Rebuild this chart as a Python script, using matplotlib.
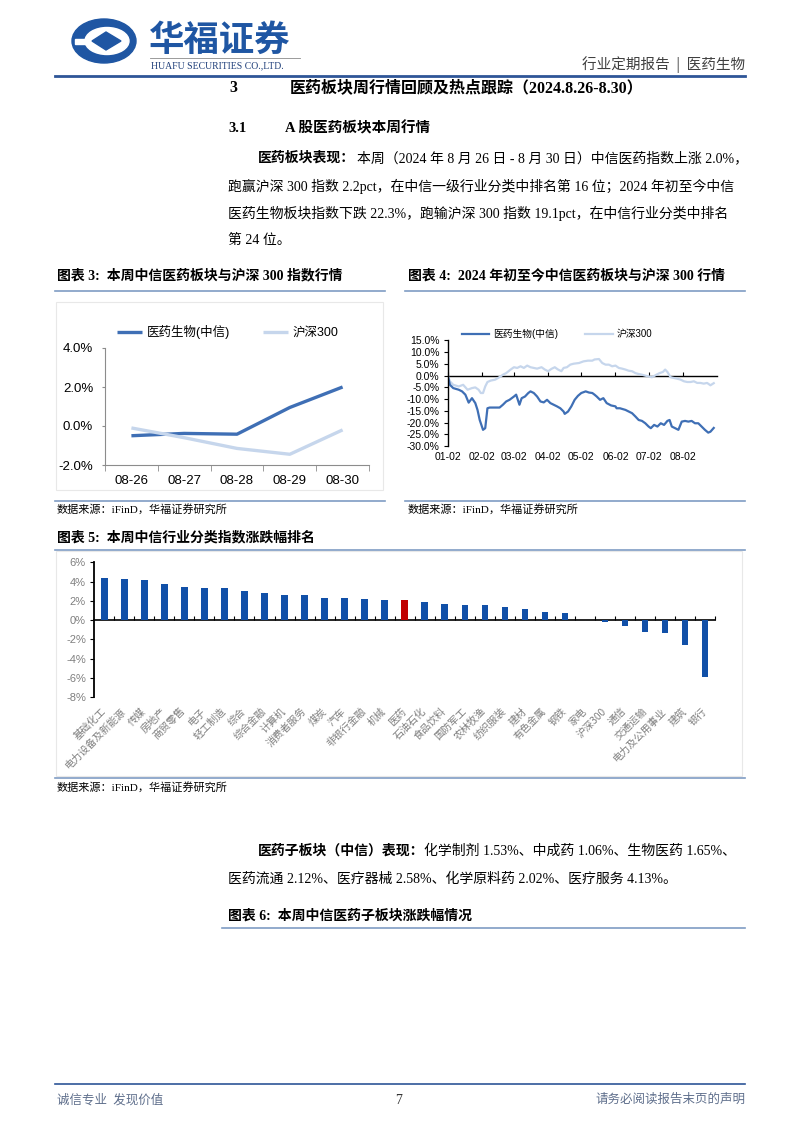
import numpy as np
import pandas as pd
import matplotlib
matplotlib.use('Agg')
import matplotlib.pyplot as plt
import matplotlib.dates as mdates
from matplotlib.patches import Ellipse, Polygon, Rectangle
from matplotlib.lines import Line2D
from matplotlib.ticker import FuncFormatter, NullFormatter

plt.rcParams['font.family'] = ['Liberation Sans', 'Noto Sans CJK SC']
plt.rcParams['axes.unicode_minus'] = False

SERIF = ['Liberation Serif', 'Noto Sans CJK SC']
CJK = ['Noto Sans CJK SC', 'DejaVu Sans']

# ---------------- данные ----------------
# 图表3: 本周中信医药板块与沪深300指数行情 (%)
week_days = ['08-26', '08-27', '08-28', '08-29', '08-30']
week_pharma = [-0.5, -0.38, -0.42, 0.95, 2.0]
week_hs300 = [-0.1, -0.6, -1.15, -1.45, -0.2]

# 图表4: 2024年初至今 (%)
ph_dates = ['01-02', '01-04', '01-07', '01-12', '01-15', '01-18', '01-21', '01-24', '01-27', '01-29',
            '01-31', '02-03', '02-05', '02-07', '02-09', '02-14', '02-18', '02-21', '02-24', '02-27',
            '03-02', '03-04', '03-07', '03-09', '03-12', '03-15', '03-17', '03-20', '03-23', '03-26',
            '03-29', '04-01', '04-04', '04-07', '04-10', '04-13', '04-16', '04-17', '04-20', '04-23',
            '04-26', '04-29', '05-02', '05-06', '05-09', '05-12', '05-14', '05-16', '05-19', '05-22',
            '05-25', '05-29', '06-02', '06-03', '06-06', '06-11', '06-14', '06-17', '06-20', '06-23',
            '06-26', '06-29', '07-02', '07-04', '07-07', '07-10', '07-13', '07-16', '07-19', '07-21',
            '07-23', '07-26', '07-29', '08-01', '08-04', '08-07', '08-10', '08-13', '08-16', '08-19',
            '08-22', '08-25', '08-27', '08-30']
ph_vals = [0, -3.9, -5.3, -6.0, -6.7, -8.1, -11.5, -9.6, -11.7, -14.6,
           -18.9, -23.1, -22.4, -13.9, -13.6, -13.6, -13.6, -12.4, -11.0, -10.3,
           -8.9, -8.1, -12.4, -9.6, -8.9, -7.4, -6.7, -7.4, -8.9, -11.0,
           -11.4, -10.3, -11.7, -12.4, -13.1, -13.9, -15.3, -16.3, -15.3, -13.1,
           -10.3, -8.6, -7.4, -6.7, -7.2, -7.4, -8.1, -8.9, -10.3, -9.6,
           -11.7, -12.7, -13.1, -13.9, -13.9, -14.6, -15.3, -16.0, -17.4, -18.9,
           -19.3, -20.3, -21.7, -22.4, -21.0, -21.7, -20.3, -21.0, -19.3, -18.9,
           -21.7, -22.4, -23.1, -19.6, -19.3, -19.6, -19.3, -20.3, -20.3, -21.7,
           -23.1, -24.3, -23.9, -22.3]

hs_dates = ['01-02', '01-04', '01-07', '01-12', '01-16', '01-20', '01-24', '01-27', '01-30', '02-01',
            '02-03', '02-05', '02-07', '02-10', '02-14', '02-18', '02-21', '02-24', '02-28', '03-02',
            '03-05', '03-08', '03-11', '03-14', '03-17', '03-20', '03-23', '03-27', '03-30', '04-02',
            '04-05', '04-08', '04-11', '04-14', '04-16', '04-19', '04-22', '04-25', '04-30', '05-04',
            '05-08', '05-12', '05-14', '05-18', '05-21', '05-24', '05-27', '05-30', '06-02', '06-05',
            '06-08', '06-11', '06-14', '06-17', '06-20', '06-23', '06-26', '06-29', '07-02', '07-05',
            '07-09', '07-12', '07-15', '07-17', '07-19', '07-22', '07-25', '07-28', '07-31', '08-03',
            '08-06', '08-09', '08-12', '08-15', '08-18', '08-21', '08-24', '08-27', '08-30']
hs_vals = [0, -2.4, -3.9, -4.6, -3.9, -6.0, -5.3, -5.0, -6.0, -7.4,
           -7.4, -4.6, -2.7, -2.1, -1.7, -0.6, 0.4, 1.1, 2.6, 3.6,
           3.3, 4.0, 3.3, 4.3, 3.6, 3.3, 3.0, 3.6, 2.6, 1.9,
           2.9, 3.6, 2.6, 1.9, 3.3, 3.6, 4.7, 5.1, 5.4, 6.1,
           6.4, 6.4, 6.9, 7.1, 5.4, 4.7, 4.7, 4.0, 4.3, 3.3,
           3.0, 2.6, 2.1, 1.9, 1.1, 0.7, 0.4, 0.0, -0.3, -0.7,
           0.4, 1.1, 1.6, 2.6, 1.6, -0.7, -1.0, -1.3, -1.7, -2.4,
           -2.7, -2.7, -2.4, -3.1, -3.1, -3.4, -3.1, -4.1, -3.2]

# 图表5: 本周中信行业分类指数涨跌幅 (%)
industries = ['基础化工', '电力设备及新能源', '传媒', '房地产', '商贸零售', '电子', '轻工制造', '综合',
              '综合金融', '计算机', '消费者服务', '煤炭', '汽车', '非银行金融', '机械', '医药',
              '石油石化', '食品饮料', '国防军工', '农林牧渔', '纺织服装', '建材', '有色金属', '钢铁',
              '家电', '沪深300', '通信', '交通运输', '电力及公用事业', '建筑', '银行']
industry_chg = [4.41, 4.28, 4.17, 3.76, 3.48, 3.31, 3.31, 3.0,
                2.79, 2.62, 2.55, 2.34, 2.28, 2.21, 2.10, 2.03,
                1.86, 1.62, 1.59, 1.52, 1.31, 1.17, 0.86, 0.72,
                0.03, -0.2, -0.62, -1.21, -1.38, -2.55, -5.93]

# ---------------- страница ----------------
W, H = 802, 1133
fig = plt.figure(figsize=(W / 100, H / 100), dpi=100)


def fx(x):
    return x / W


def fy(y):
    return 1 - y / H


def px_axes(x0, y0, x1, y1):
    return fig.add_axes([fx(x0), fy(y1), (x1 - x0) / W, (y1 - y0) / H])


def hline(x0, x1, y, color='#7F9CC4', lw=1.2):
    fig.add_artist(Line2D([fx(x0), fx(x1)], [fy(y), fy(y)], color=color, lw=lw))


def txt(x, y, s, size=10, family=SERIF, **kw):
    fig.text(fx(x), fy(y), s, va='center', fontsize=size, family=family, **kw)


# логотип
BLUE = '#1F56A3'
fig.add_artist(Ellipse((fx(104), fy(41)), 64 / W, 44 / H, color=BLUE, transform=fig.transFigure))
fig.add_artist(Ellipse((fx(107), fy(41)), 44 / W, 27 / H, color='white', transform=fig.transFigure))
fig.add_artist(Polygon([(fx(92), fy(41)), (fx(106), fy(32)), (fx(121), fy(41)), (fx(106), fy(50))],
                       closed=True, color=BLUE, transform=fig.transFigure))
fig.add_artist(Rectangle((fx(75), fy(44)), 14 / W, 5 / H, color='white', transform=fig.transFigure))
txt(149, 40, '华福证券', size=25.5, family=CJK, weight='bold', color=BLUE)
hline(150, 300, 58, color='#8A8A8A', lw=0.6)
txt(151, 66, 'HUAFU SECURITIES CO.,LTD.', size=7, family=SERIF, color='#1F3F7A')
txt(745, 65, '行业定期报告  |  医药生物', size=10.5, family=CJK, color='#404040', ha='right')
hline(55, 745, 76, color='#2E5597', lw=2)

# заголовки
txt(229, 88, '3', size=11.5, weight='bold')
txt(290, 88, '医药板块周行情回顾及热点跟踪（2024.8.26-8.30）', size=11.5, weight='bold')
txt(228, 128, '3.1', size=10.5, weight='bold')
txt(285, 128, 'A 股医药板块本周行情', size=10.5, weight='bold')

# абзац 1
txt(258, 158, '医药板块表现：', weight='bold')
txt(357, 158, '本周（2024 年 8 月 26 日 - 8 月 30 日）中信医药指数上涨 2.0%，')
txt(228, 186, '跑赢沪深 300 指数 2.2pct，在中信一级行业分类中排名第 16 位；2024 年初至今中信')
txt(228, 213, '医药生物板块指数下跌 22.3%，跑输沪深 300 指数 19.1pct，在中信行业分类中排名')
txt(228, 240, '第 24 位。')

# подписи графиков
txt(57, 276, '图表 3:  本周中信医药板块与沪深 300 指数行情', weight='bold')
hline(55, 385, 291)
txt(408, 276, '图表 4:  2024 年初至今中信医药板块与沪深 300 行情', weight='bold')
hline(405, 745, 291)
hline(55, 385, 501)
hline(405, 745, 501)
txt(57, 509, '数据来源：iFinD，华福证券研究所', size=8)
txt(408, 509, '数据来源：iFinD，华福证券研究所', size=8)

fig.add_artist(Rectangle((fx(56), fy(490)), 327 / W, 188 / H, fill=False, ec='#E8E8E8', lw=0.8,
                         transform=fig.transFigure))

# ---------- 图表3 ----------
DARK = '#3F6FB5'
LIGHT = '#C6D6EC'
ax3 = px_axes(105, 348, 369, 465)
x3 = np.arange(len(week_days))
ax3.plot(x3, week_pharma, color=DARK, lw=2.4, label='医药生物(中信)', solid_capstyle='butt')
ax3.plot(x3, week_hs300, color=LIGHT, lw=2.4, label='沪深300', solid_capstyle='butt')
ax3.set_xlim(-0.5, len(week_days) - 0.5)
ax3.set_ylim(-2, 4)
ax3.set_yticks([-2, 0, 2, 4])
ax3.yaxis.set_major_formatter(FuncFormatter(lambda v, p: f'{v:.1f}%'))
ax3.set_xticks(x3)
ax3.set_xticklabels(week_days)
ax3.set_xticks(np.arange(-0.5, len(week_days), 1), minor=True)
for s in ['top', 'right']:
    ax3.spines[s].set_visible(False)
for s in ['left', 'bottom']:
    ax3.spines[s].set_color('#8C8C8C')
    ax3.spines[s].set_linewidth(0.8)
ax3.tick_params(axis='x', which='major', length=0, pad=7, labelsize=9.5)
ax3.tick_params(axis='x', which='minor', length=4, color='#8C8C8C')
ax3.tick_params(axis='y', length=2.5, color='#8C8C8C', pad=6, labelsize=9.5)
ax3.legend(loc='center', bbox_to_anchor=(fx(228), fy(332)), bbox_transform=fig.transFigure,
           ncol=2, frameon=False, fontsize=9, handlelength=2.0, columnspacing=2.6, handletextpad=0.4)

# ---------- 图表4 ----------
ax4 = px_axes(447.7, 340.5, 716.5, 446)
hs_t = pd.to_datetime(['2024-' + d for d in hs_dates])
ph_t = pd.to_datetime(['2024-' + d for d in ph_dates])
ax4.plot(hs_t, hs_vals, color=LIGHT, lw=1.6, label='沪深300')
ax4.plot(ph_t, ph_vals, color=DARK, lw=1.6, label='医药生物(中信)')
ax4.set_xlim(pd.Timestamp('2024-01-02'), pd.Timestamp('2024-09-01 12:00'))
ax4.set_ylim(-30, 15)
ax4.set_yticks(np.arange(-30, 16, 5))
ax4.yaxis.set_major_formatter(FuncFormatter(lambda v, p: f'{v:.1f}%'))
ax4.xaxis.set_major_locator(mdates.MonthLocator(bymonthday=2))
ax4.xaxis.set_major_formatter(mdates.DateFormatter('%m-%d'))
for s in ['top', 'right', 'bottom']:
    ax4.spines[s].set_visible(False)
ax4.spines['left'].set_color('black')
ax4.spines['left'].set_linewidth(1.0)
ax4.tick_params(axis='x', length=0, pad=4, labelsize=7.5)
ax4.tick_params(axis='y', length=3, pad=3, labelsize=7.5)
zero4 = ax4.secondary_xaxis(0, transform=ax4.transData)
zero4.spines['bottom'].set_color('black')
zero4.spines['bottom'].set_linewidth(1.0)
zero4.xaxis.set_major_locator(mdates.MonthLocator(bymonthday=2))
zero4.xaxis.set_major_formatter(NullFormatter())
zero4.tick_params(axis='x', direction='in', length=3, color='black')
h4, l4 = ax4.get_legend_handles_labels()
ax4.legend(h4[::-1], l4[::-1], loc='center', bbox_to_anchor=(fx(557), fy(334)),
           bbox_transform=fig.transFigure, ncol=2, frameon=False, fontsize=7,
           handlelength=2.8, columnspacing=2.8, handletextpad=0.4)

# ---------- 图表5 ----------
txt(57, 538, '图表 5:  本周中信行业分类指数涨跌幅排名', weight='bold')
hline(55, 745, 550)
fig.add_artist(Rectangle((fx(56), fy(776)), 686 / W, 225 / H, fill=False, ec='#E8E8E8', lw=0.8,
                         transform=fig.transFigure))
ax5 = px_axes(94.3, 562.3, 715, 697)
x5 = np.arange(len(industries))
colors5 = ['#C00000' if n == '医药' else '#1150A8' for n in industries]
ax5.bar(x5, industry_chg, width=0.32, color=colors5)
ax5.set_xlim(-0.5, len(industries) - 0.5)
ax5.set_ylim(-8, 6)
ax5.set_yticks(np.arange(-8, 7, 2))
ax5.yaxis.set_major_formatter(FuncFormatter(lambda v, p: f'{v:.0f}%'))
ax5.set_xticks(x5)
ax5.set_xticklabels(industries, rotation=45, ha='right', va='center', rotation_mode='anchor',
                    family=CJK, fontsize=7.3, color='#7F7F7F')
for s in ['top', 'right', 'bottom']:
    ax5.spines[s].set_visible(False)
ax5.spines['left'].set_linewidth(1.3)
ax5.tick_params(axis='x', length=0, pad=9)
ax5.tick_params(axis='y', length=3, pad=3, labelsize=8, labelcolor='#7F7F7F')
zero5 = ax5.secondary_xaxis(0, transform=ax5.transData)
zero5.spines['bottom'].set_linewidth(1.2)
zero5.set_xticks(np.arange(0.5, len(industries), 1))
zero5.xaxis.set_major_formatter(NullFormatter())
zero5.tick_params(axis='x', direction='in', length=3)

hline(55, 745, 778)
txt(57, 787, '数据来源：iFinD，华福证券研究所', size=8)

# абзац 2
txt(258, 851, '医药子板块（中信）表现：', weight='bold')
txt(424, 851, '化学制剂 1.53%、中成药 1.06%、生物医药 1.65%、')
txt(228, 879, '医药流通 2.12%、医疗器械 2.58%、化学原料药 2.02%、医疗服务 4.13%。')
txt(228, 916, '图表 6:  本周中信医药子板块涨跌幅情况', weight='bold')
hline(222, 745, 928)

# подвал
hline(55, 745, 1084, color='#2E5597', lw=1.2)
txt(57, 1100, '诚信专业  发现价值', size=9, color='#5F6F8C')
txt(395, 1100, '7', size=10, color='#333333')
txt(745, 1100, '请务必阅读报告末页的声明', size=9, color='#5F6F8C', ha='right')

fig.savefig('out.png', dpi=100)
